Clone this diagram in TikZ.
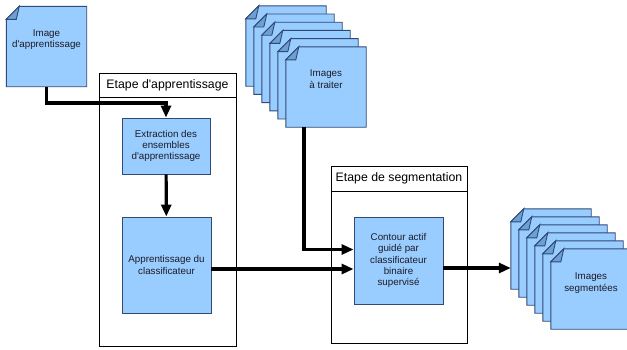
\documentclass[tikz,border=0pt]{standalone}
\usepackage{fontspec}
\setmainfont{Liberation Sans}
\usetikzlibrary{positioning,arrows.meta}
\definecolor{docBlue}{HTML}{99CCFF}
\definecolor{docEdge}{HTML}{2E4A75}
\definecolor{foldBlue}{HTML}{6E9FD2}
\definecolor{txtGray}{HTML}{1C1C28}

% page with folded corner, drawn round an empty node
\newcommand{\docpage}[1]{%
  \draw[docEdge, fill=docBlue, line width=0.9pt] ([yshift=-13pt]#1.north west) -- ([xshift=13pt]#1.north west)
    -- (#1.north east) -- (#1.south east) -- (#1.south west) -- cycle;
  \draw[docEdge, fill=foldBlue, line width=0.9pt] ([yshift=-13pt]#1.north west) -- ([xshift=13pt]#1.north west)
    -- ([shift={(10pt,-13pt)}]#1.north west) -- cycle;}
\newcommand{\apos}{\textquotesingle}

\tikzset{
  doc/.style={minimum width=80pt, minimum height=80pt, inner sep=0pt},
  doctext/.style={align=center, text=txtGray, font=\fontsize{9.8}{11.5}\selectfont},
  stepbox/.style={draw=docEdge, fill=docBlue, line width=0.9pt, align=center, inner sep=0pt,
    text=txtGray, font=\fontsize{9.8}{11.2}\selectfont},
  stage/.style={draw, line width=0.8pt, fill=white, inner sep=0pt},
  stagehead/.style={draw, line width=0.8pt, inner sep=0pt, font=\fontsize{12.3}{14}\selectfont},
  flow/.style={line width=3.2pt, -{Triangle[length=12pt, width=10pt]}}
}

\begin{document}
\begin{tikzpicture}[x=1pt, y=-1pt]
		\useasboundingbox (0,0) rectangle (627,349);
		%%%%%%%%%%%%%
		\node[stage, minimum width=137pt, minimum height=273pt] (etapeA) at (167.5, 209.5) {};
		\node[stagehead, minimum width=137pt, minimum height=24pt, anchor=north] (titreA) at (etapeA.north) {Etape d\apos apprentissage};
		\node[stage, minimum width=136pt, minimum height=177pt] (etapeS) at (399, 254.5) {};
		\node[stagehead, minimum width=136pt, minimum height=25pt, anchor=north] (titreS) at (etapeS.north) {Etape de segmentation};
		%%%%%%%%%%%%%
		\node[doc] (appr) at (46.5, 46.5) {};
		\docpage{appr}
		\node[doctext] (apprTxt) at ([yshift=7pt]appr.center) {Image\\d\apos apprentissage};
		\foreach \i in {0,...,5} {
			\node[doc] (trait\i) at (286+8*\i, 46+8.2*\i) {};
			\docpage{trait\i}
		}
		\node[doctext] (traitTxt) at ([yshift=8pt]trait5.center) {Images\\à traiter};
		\foreach \i in {0,...,5} {
			\node[doc] (seg\i) at (551+8*\i, 249+8*\i) {};
			\docpage{seg\i}
		}
		\node[doctext] (segTxt) at ([yshift=6pt]seg5.center) {Images\\segmentées};
		%%%%%%%%%%%%%
		\node[stepbox, minimum width=88pt, minimum height=56pt] (extr) at (166, 146) {Extraction des\\ensembles\\d\apos apprentissage};
		\node[stepbox, minimum width=89pt, minimum height=96pt] (classif) at (166.5, 265) {Apprentissage du\\classificateur};
		\node[stepbox, minimum width=89pt, minimum height=87pt] (contour) at (398.5, 260.5) {Contour actif\\guidé par\\classificateur\\binaire\\supervisé};
		%%%%%%%%%%%%%
		\coordinate (bendA) at (46.5, 103);
		\coordinate (classOut) at ([yshift=-4pt]classif.east);
		\coordinate (traitOut) at ([xshift=-22pt]trait5.south);
		\coordinate (contIn) at ([yshift=11pt]contour.west);
		\coordinate (segIn) at ([yshift=-19pt]seg0.west);
		\draw[flow] (appr.south) -- (bendA) -| (extr.north);
		\draw[flow] (extr) -- (classif);
		\draw[flow] (classOut) -- (classOut -| contour.west);
		\draw[flow] (traitOut) |- (contIn);
		\draw[flow] (contour.east |- segIn) -- (segIn);
\end{tikzpicture}
\end{document}
